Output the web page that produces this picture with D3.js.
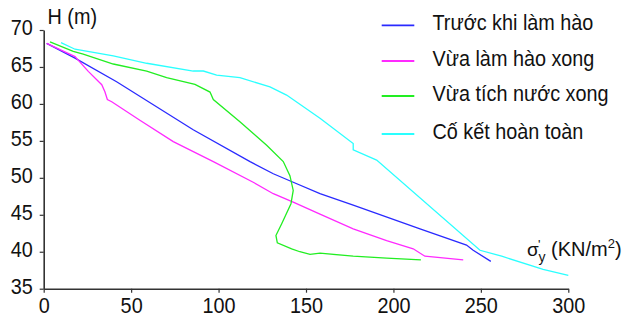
<!DOCTYPE html>
<html>
<head>
<meta charset="utf-8">
<script src="https://cdn.jsdelivr.net/npm/d3@7"></script>
<style>
  body { margin: 0; background: #fff; }
  text { font-family: "Liberation Sans", Arial, sans-serif; fill: #111; }
</style>
</head>
<body>
<div id="chart"></div>
<script>
// series values: [sigma'y (KN/m2), H (m)]
var truocKhiLamHao = [[1.7, 68.2], [17.9, 66.2], [41.7, 63.0], [85.5, 56.5], [118, 52.2], [131.3, 50.55],
  [142.7, 49.4], [158, 47.85], [177, 46.3], [215.2, 43.1], [241.8, 40.9], [245.6, 40.2], [255.7, 38.7]];
var vuaLamHaoXong = [[1.7, 68.2], [17.9, 66.4], [25.5, 64.4], [33.2, 62.6], [35, 61.65], [36.4, 60.6],
  [38.9, 60.3], [55, 57.8], [74.1, 54.9], [97, 52.2], [119.8, 49.4], [131.3, 47.85], [142.7, 46.7],
  [158, 45.1], [177, 43.1], [196.1, 41.5], [211.3, 40.4], [218, 39.4], [239.9, 38.9]];
var vuaTichNuocXong = [[3.6, 68.4], [16.9, 67.1], [22.6, 66.75], [39.8, 65.4], [58.9, 64.45], [70.3, 63.55],
  [86.5, 62.65], [95.1, 61.6], [97, 60.6], [112.2, 57.6], [127.5, 54.4], [137, 52.2], [140.8, 50.3],
  [142.7, 48.3], [141.4, 46.5], [136.1, 43.8], [132.8, 42.2], [133.6, 41.2], [141.8, 40.4], [146.5, 40.0],
  [152.3, 39.65], [158, 39.8], [177, 39.4], [196.1, 39.15], [215.7, 38.9]];
var coKetHoanToan = [[9.9, 68.3], [17.9, 67.4], [39.8, 66.5], [58.9, 65.5], [85.5, 64.45], [91.3, 64.45],
  [98.9, 63.9], [112.2, 63.55], [129.4, 62.3], [138.9, 61.2], [158, 58.05], [177, 54.65], [177, 53.8],
  [190.4, 52.4], [249.5, 40.2], [261.9, 39.4], [285.6, 37.6], [300, 36.8]];

var seriesNames = ['Trước khi làm hào', 'Vừa làm hào xong', 'Vừa tích nước xong', 'Cố kết hoàn toàn'];
var seriesData = [truocKhiLamHao, vuaLamHaoXong, vuaTichNuocXong, coKetHoanToan];
var colors = ['#2a2aff', '#ff2aff', '#22ee22', '#2affff'];

var xTicks = [0, 50, 100, 150, 200, 250, 300];
var yTicks = [35, 40, 45, 50, 55, 60, 65, 70];

var width = 640, height = 324;

// the reference uses a narrow font, so squeeze text horizontally
function narrow(sel, k) {
  sel.each(function () {
    var len = this.getComputedTextLength();
    d3.select(this).attr('textLength', len * k).attr('lengthAdjust', 'spacingAndGlyphs');
  });
}

var svg = d3.select('#chart')
  .append('svg')
  .attr('width', width)
  .attr('height', height);

// scales
var x = d3.scaleLinear().domain([0, 300]).range([43.7, 568.3]);
var y = d3.scaleLinear().domain([35, 70]).range([288.7, 30]);

// X axis
var xAxis = svg.append('g')
  .attr('transform', 'translate(0,' + y(35) + ')')
  .call(d3.axisBottom(x).tickValues(xTicks).tickSize(4).tickSizeOuter(0).tickPadding(5));

// Y axis
var yAxis = svg.append('g')
  .attr('transform', 'translate(' + x(0) + ',0)')
  .call(d3.axisLeft(y).tickValues(yTicks).tickSize(4).tickSizeOuter(0).tickPadding(7));

[xAxis, yAxis].forEach(function (ax) {
  ax.select('.domain').attr('stroke', '#333').attr('stroke-width', 1.6);
  ax.selectAll('.tick line').attr('stroke', '#333').attr('stroke-width', 1.2);
  ax.selectAll('.tick text').attr('font-size', 22).attr('fill', '#111')
    .style('font-family', '"Liberation Sans", Arial, sans-serif');
  narrow(ax.selectAll('.tick text'), 0.9);
});
yAxis.selectAll('.tick text').attr('dy', '0.22em');

// the lines
var line = d3.line()
  .x(function (d) { return x(d[0]); })
  .y(function (d) { return y(d[1]); });

svg.append('g')
  .selectAll('path')
  .data(seriesData)
  .enter()
  .append('path')
  .attr('d', line)
  .attr('fill', 'none')
  .attr('stroke', function (d, i) { return colors[i]; })
  .attr('stroke-width', 1.3);

// axis titles
var hTitle = svg.append('text')
  .attr('x', 47.5)
  .attr('y', 23.5)
  .attr('font-size', 22)
  .text('H (m)');
narrow(hTitle, 0.9);

// sigma'y with subscript and prime, then the unit
var xTitle = svg.append('text')
  .attr('x', 527)
  .attr('y', 256)
  .attr('font-size', 20);
xTitle.append('tspan').attr('font-size', 19).text('σ');
xTitle.append('tspan').attr('x', 538.5).attr('y', 262).attr('font-size', 14).text('y');
xTitle.append('tspan').attr('x', 538).attr('y', 249).attr('font-size', 13).text('\'');
xTitle.append('tspan').attr('x', 551).attr('y', 256).text('(KN/m');
xTitle.append('tspan').attr('dy', -8).attr('font-size', 13).text('2');
xTitle.append('tspan').attr('dy', 8).text(')');

// legend
var legendY = [25.3, 61, 96, 134];
var legend = svg.append('g')
  .selectAll('g')
  .data(seriesNames)
  .enter()
  .append('g')
  .attr('transform', function (d, i) { return 'translate(0,' + legendY[i] + ')'; });

legend.append('line')
  .attr('x1', 381.7)
  .attr('x2', 414.3)
  .attr('stroke', function (d, i) { return colors[i]; })
  .attr('stroke-width', 1.8);

var legendText = legend.append('text')
  .attr('x', 432.5)
  .attr('y', 5)
  .attr('font-size', 22)
  .text(function (d) { return d; });
narrow(legendText, 0.9);
</script>
</body>
</html>
